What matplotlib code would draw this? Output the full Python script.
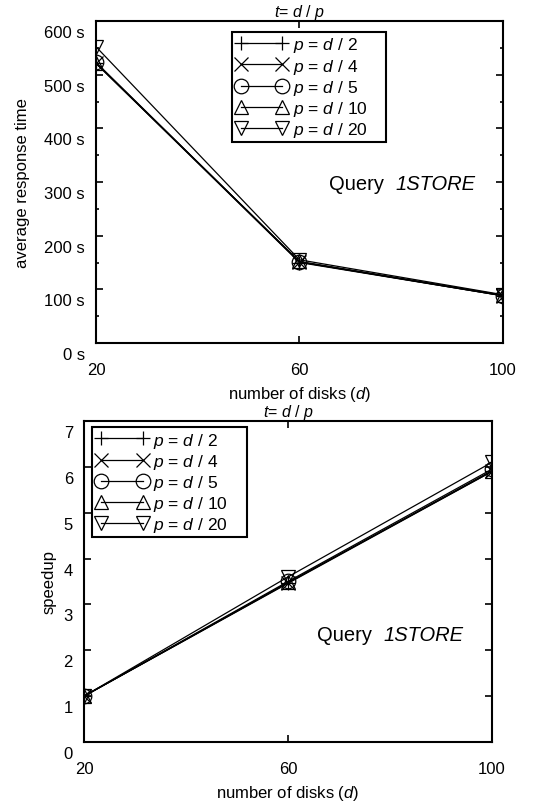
import matplotlib
matplotlib.use("Agg")
import matplotlib.pyplot as plt
import matplotlib.transforms as mtransforms
from matplotlib.patches import Rectangle
from matplotlib.ticker import MultipleLocator

plt.rcParams["font.family"] = ["Liberation Sans", "DejaVu Sans"]
plt.rcParams["mathtext.fontset"] = "custom"
plt.rcParams["mathtext.rm"] = "Liberation Sans"
plt.rcParams["mathtext.it"] = "Liberation Sans:italic"

# Dados
discos = [20, 60, 100]
rotulos = [r"$p$ = $d$ / 2", r"$p$ = $d$ / 4", r"$p$ = $d$ / 5",
           r"$p$ = $d$ / 10", r"$p$ = $d$ / 20"]
marcadores = ["+", "x", "o", "^", "v"]

tempo_p2 = [521, 150, 88]
tempo_p4 = [522, 151, 88]
tempo_p5 = [523, 151, 88]
tempo_p10 = [521, 152, 89]
tempo_p20 = [552, 155, 90]

speedup_p2 = [1.0, 3.46, 5.9]
speedup_p4 = [1.0, 3.47, 5.92]
speedup_p5 = [1.0, 3.5, 5.95]
speedup_p10 = [1.0, 3.48, 5.9]
speedup_p20 = [1.0, 3.6, 6.1]

tempos = [tempo_p2, tempo_p4, tempo_p5, tempo_p10, tempo_p20]
speedups = [speedup_p2, speedup_p4, speedup_p5, speedup_p10, speedup_p20]

fig = plt.figure(figsize=(5.43, 8.03), dpi=100)
ax1 = fig.add_axes([0.1768, 0.5716, 0.7495, 0.401])
ax2 = fig.add_axes([0.1547, 0.0747, 0.7514, 0.3998])

FS = 12


def desenha(ax, series, ymax, ymaj, ymin, fmt, ylabel, caixa, qpos):
    for ys, m, lab in zip(series, marcadores, rotulos):
        ax.plot(discos, ys, color="black", lw=0.9, marker=m, markersize=10.5,
                markerfacecolor="none", markeredgecolor="black",
                markeredgewidth=0.9, label=lab)
    ax.set_xlim(20, 100)
    ax.set_ylim(0, ymax)
    ax.set_xticks(discos)
    ax.yaxis.set_major_locator(MultipleLocator(ymaj))
    if ymin:
        ax.yaxis.set_minor_locator(MultipleLocator(ymin))
    ax.yaxis.set_major_formatter(fmt)
    ax.tick_params(which="both", direction="in", top=True, right=True,
                   labelsize=FS, width=1.2)
    ax.tick_params(which="major", length=5)
    ax.tick_params(which="minor", length=2.5)
    ax.tick_params(axis="y", pad=8)
    ax.tick_params(axis="x", pad=14)
    for s in ax.spines.values():
        s.set_linewidth(1.5)
    # rótulos do eixo y um pouco abaixo dos ticks (estilo gnuplot)
    offset = mtransforms.ScaledTranslation(0, -0.1, fig.dpi_scale_trans)
    for lbl in ax.get_yticklabels():
        lbl.set_transform(lbl.get_transform() + offset)
    ax.set_xlabel(r"number of disks ($d$)", fontsize=FS, labelpad=5)
    ax.set_ylabel(ylabel, fontsize=FS)
    ax.set_title(r"$t$= $d$ / $p$", fontsize=11.5, pad=1)

    # legenda sem moldura + caixa desenhada à parte (mais larga, como no gnuplot)
    x0, y0, x1, y1 = caixa
    ax.add_patch(Rectangle((x0, y0), x1 - x0, y1 - y0, transform=ax.transAxes,
                           facecolor="white", edgecolor="black", lw=1.5,
                           zorder=4))
    leg = ax.legend(loc="upper left", bbox_to_anchor=(x0, y1),
                    borderaxespad=0, numpoints=2, handlelength=3.0,
                    handletextpad=0.3, labelspacing=0.12, borderpad=0.2,
                    fontsize=12.5, frameon=False)
    leg.set_zorder(5)
    # "Query" normal + "1STORE" em itálico
    ax.text(qpos[0], qpos[1], "Query  ", transform=ax.transAxes,
            fontsize=14.5, ha="right", va="center")
    ax.text(qpos[0], qpos[1], "1STORE", transform=ax.transAxes,
            fontsize=14.5, ha="left", va="center", style="italic")


desenha(ax1, tempos, 600, 100, 50, lambda v, p: f"{v:.0f} s",
        "average response time", (0.334, 0.624, 0.7125, 0.966),
        (0.735, 0.494))
desenha(ax2, speedups, 7, 1, None, lambda v, p: f"{v:.0f}",
        "speedup", (0.02, 0.639, 0.40, 0.981), (0.733, 0.336))
ax1.yaxis.labelpad = 10
ax2.yaxis.labelpad = 5

fig.savefig("out.png", dpi=100)
